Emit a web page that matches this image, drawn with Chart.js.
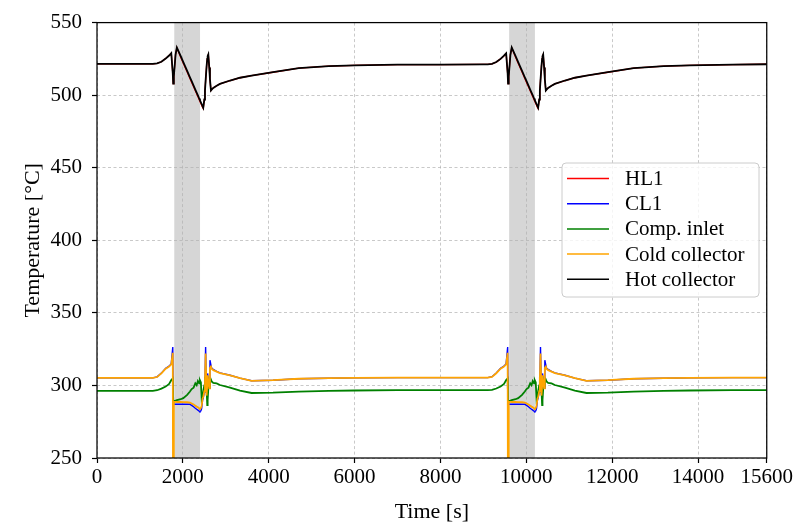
<!DOCTYPE html>
<html><head><meta charset="utf-8">
<script src="https://cdn.jsdelivr.net/npm/chart.js@4.4.1/dist/chart.umd.min.js"></script>
<style>html,body{margin:0;padding:0;background:#fff}#wrap{width:795px;height:525px;position:relative}</style>
</head><body><div id="wrap"><canvas id="c" width="795" height="525"></canvas></div>
<script>
// ---- Data (time in seconds, temperatures in °C) ----
const timeS = [0,
 1300,1400,1500,1600,1680,1730,1765,1775,1790,1830,1860,1950,2010,2100,2165,2205,2250,2290,2321,2350,2380,2398,2420,2437,2460,2475,2500,2515,2530,2553,2568,2577,2593,2615,2631,2654,2670,2708,2787,2864,3100,3330,3600,4100,4700,5400,6000,7000,
 8000,9000,
 9100,9200,9300,9400,9480,9530,9565,9575,9590,9630,9660,9750,9810,9900,9965,10005,10050,10090,10121,10150,10180,10198,10220,10237,10260,10275,10300,10315,10330,10353,10368,10377,10393,10415,10431,10454,10470,10508,10587,10664,10900,11130,11400,11900,12500,13200,13800,14800,
 15600];

const hotCollector = [521.5,
 521.5,521.9,523.0,525.2,527.3,528.9,515.0,508.0,513.0,528.0,532.8,526.9,522.8,516.7,512.3,509.6,506.6,503.8,501.7,499.8,497.7,496.5,495.0,493.9,492.3,491.3,497.0,503.0,510.0,520.0,525.0,526.8,528.0,519.0,511.0,503.2,503.8,505.0,506.5,507.8,510.1,512.0,513.4,515.8,518.6,520.0,520.5,521.0,
 521.1,521.2,
 521.2,521.6,522.8,525.0,527.2,528.8,515.0,508.0,513.0,528.0,532.8,526.9,522.8,516.7,512.3,509.6,506.6,503.8,501.7,499.8,497.7,496.5,495.0,493.9,492.3,491.3,497.0,503.0,510.0,520.0,525.0,526.8,528.0,519.0,511.0,503.2,503.8,505.0,506.5,507.8,510.1,512.0,513.4,515.8,518.6,520.0,520.5,521.0,
 521.3];

const hl1 = [521.5,
 521.5,521.9,523.0,525.2,527.3,528.9,515.0,508.0,513.0,528.0,532.6,526.2,522.0,515.9,511.5,508.8,505.8,503.0,500.9,499.0,496.9,495.7,494.2,493.1,491.6,490.8,497.0,503.0,510.0,520.0,525.0,526.8,528.0,519.0,511.0,503.2,503.8,505.0,506.5,507.8,510.1,512.0,513.4,515.8,518.6,520.0,520.5,521.0,
 521.1,521.2,
 521.2,521.6,522.8,525.0,527.2,528.8,515.0,508.0,513.0,528.0,532.6,526.2,522.0,515.9,511.5,508.8,505.8,503.0,500.9,499.0,496.9,495.7,494.2,493.1,491.6,490.8,497.0,503.0,510.0,520.0,525.0,526.8,528.0,519.0,511.0,503.2,503.8,505.0,506.5,507.8,510.1,512.0,513.4,515.8,518.6,520.0,520.5,521.0,
 521.3];

const coldCollector = [305.2,
 305.2,305.8,308.3,311.5,313.0,314.5,322.5,160.0,288.8,288.7,288.6,288.6,288.5,288.4,288.2,287.6,286.8,286.0,285.4,284.9,284.3,284.0,284.5,286.0,291.0,292.0,296.0,303.0,322.0,293.0,300.0,307.0,303.0,298.0,312.0,313.0,311.5,310.5,309.5,308.5,307.0,305.0,303.2,303.6,304.6,305.0,305.2,305.4,
 305.4,305.4,
 305.4,305.9,308.4,311.5,313.0,314.5,322.5,160.0,288.8,288.7,288.6,288.6,288.5,288.4,288.2,287.6,286.8,286.0,285.4,284.9,284.3,284.0,284.5,286.0,291.0,292.0,296.0,303.0,322.0,293.0,300.0,307.0,303.0,298.0,312.0,313.0,311.5,310.5,309.5,308.5,307.0,305.0,303.2,303.6,304.6,305.0,305.2,305.4,
 305.4];

const cl1 = [305.2,
 305.2,305.9,308.5,311.8,313.3,315.0,326.5,287.0,287.0,287.0,287.0,287.0,287.0,287.0,287.0,286.3,285.3,284.3,283.6,283.0,282.3,282.0,282.5,284.0,290.0,291.5,295.5,303.0,326.5,293.0,300.0,308.3,303.0,298.0,317.4,314.0,312.0,311.0,309.7,308.6,307.0,305.0,303.2,303.6,304.6,305.0,305.2,305.4,
 305.4,305.4,
 305.4,306.0,308.6,311.8,313.3,315.0,326.5,287.0,287.0,287.0,287.0,287.0,287.0,287.0,287.0,286.3,285.3,284.3,283.6,283.0,282.3,282.0,282.5,284.0,290.0,291.5,295.5,303.0,326.5,293.0,300.0,308.3,303.0,298.0,317.4,314.0,312.0,311.0,309.7,308.6,307.0,305.0,303.2,303.6,304.6,305.0,305.2,305.4,
 305.4];

const compInlet = [296.3,
 296.3,296.7,297.8,299.2,301.0,303.7,304.8,290.0,289.4,289.6,289.9,290.5,291.2,293.5,295.8,297.5,298.5,301.5,300.2,303.0,301.5,303.5,302.0,290.0,292.0,296.0,300.0,306.0,303.0,297.0,286.5,290.0,298.0,303.7,302.0,304.0,302.8,301.8,301.4,300.3,298.5,296.5,294.8,295.0,295.8,296.3,296.5,296.7,
 296.7,296.7,
 296.7,296.9,297.9,299.3,301.0,303.7,304.8,290.0,289.4,289.6,289.9,290.5,291.2,293.5,295.8,297.5,298.5,301.5,300.2,303.0,301.5,303.5,302.0,290.0,292.0,296.0,300.0,306.0,303.0,297.0,286.5,290.0,298.0,303.7,302.0,304.0,302.8,301.8,301.4,300.3,298.5,296.5,294.8,295.0,295.8,296.3,296.5,296.7,
 296.7];

const seriesNames = ['HL1', 'CL1', 'Comp. inlet', 'Cold collector', 'Hot collector'];
const seriesColors = ['#ff0000', '#0000ff', '#008000', '#ffa500', '#000000'];
const seriesValues = [hl1, cl1, compInlet, coldCollector, hotCollector];

const xTicks = [0, 2000, 4000, 6000, 8000, 10000, 12000, 14000, 15600];
const yTicks = [250, 300, 350, 400, 450, 500, 550];
const shadedSpans = [[1800, 2400], [9600, 10200]];

// ---- Chart ----
const FONT = "'Liberation Serif', 'DejaVu Serif', serif";
const lineWidths = [1.3, 1.4, 1.8, 1.8, 1.8];

const datasets = seriesNames.map((name, i) => ({
  label: name,
  data: timeS.map((t, k) => ({x: t, y: seriesValues[i][k]})),
  borderColor: seriesColors[i],
  backgroundColor: seriesColors[i],
  borderWidth: lineWidths[i],
  pointRadius: 0,
  tension: 0,
  fill: false,
  order: seriesNames.length - i
}));

const shadePlugin = {
  id: 'shade',
  beforeDraw(chart) {
    const ctx = chart.ctx, a = chart.chartArea, xs = chart.scales.x;
    ctx.save();
    ctx.fillStyle = '#ffffff';
    ctx.fillRect(0, 0, chart.width, chart.height);
    ctx.fillStyle = 'rgb(214,214,214)';
    shadedSpans.forEach(([s, e]) => {
      const x1 = xs.getPixelForValue(s), x2 = xs.getPixelForValue(e);
      ctx.fillRect(x1, a.top, x2 - x1, a.bottom - a.top);
    });
    ctx.restore();
  },
  afterDatasetsDraw(chart) {
    const ctx = chart.ctx, a = chart.chartArea;
    ctx.save();
    ctx.strokeStyle = '#000';
    ctx.lineWidth = 1.25;
    ctx.strokeRect(a.left, a.top, a.right - a.left, a.bottom - a.top);
    ctx.restore();
  },
  afterDraw(chart) {
    const ctx = chart.ctx;
    const bx = 562, by = 163, bw = 197, bh = 134, r = 4;
    ctx.save();
    ctx.beginPath();
    ctx.moveTo(bx + r, by);
    ctx.arcTo(bx + bw, by, bx + bw, by + bh, r);
    ctx.arcTo(bx + bw, by + bh, bx, by + bh, r);
    ctx.arcTo(bx, by + bh, bx, by, r);
    ctx.arcTo(bx, by, bx + bw, by, r);
    ctx.closePath();
    ctx.fillStyle = 'rgba(255,255,255,0.8)';
    ctx.fill();
    ctx.strokeStyle = '#cccccc';
    ctx.lineWidth = 1;
    ctx.stroke();
    ctx.font = "21px " + FONT;
    ctx.textBaseline = 'middle';
    ctx.textAlign = 'left';
    seriesNames.forEach((name, i) => {
      const y = 178.5 + i * 25.2;
      ctx.strokeStyle = seriesColors[i];
      ctx.lineWidth = 1.5;
      ctx.beginPath();
      ctx.moveTo(567, y);
      ctx.lineTo(609, y);
      ctx.stroke();
      ctx.fillStyle = '#000';
      ctx.fillText(name, 625, y + 1);
    });
    ctx.restore();
  }
};

const gridCommon = {
  color: 'rgba(175,175,175,0.85)',
  lineWidth: 0.8,
  tickLength: 5,
  tickColor: '#000',
  tickWidth: 1.2,
  tickBorderDash: []
};

new Chart(document.getElementById('c'), {
  type: 'line',
  data: {datasets},
  plugins: [shadePlugin],
  options: {
    responsive: false,
    animation: false,
    devicePixelRatio: 1,
    layout: {padding: {top: 22, right: 28, left: 0, bottom: 0}},
    plugins: {legend: {display: false}, tooltip: {enabled: false}},
    scales: {
      x: {
        type: 'linear', min: 0, max: 15600,
        afterBuildTicks: s => { s.ticks = xTicks.map(v => ({value: v})); },
        afterFit: s => { s.height = 67; },
        ticks: {font: {family: FONT, size: 21}, color: '#000', padding: 2, maxRotation: 0, autoSkip: false,
                callback: v => String(v)},
        grid: gridCommon,
        border: {display: false, dash: [3, 2.5]},
        title: {display: true, text: 'Time [s]', font: {family: FONT, size: 22}, color: '#000', padding: {top: 0, bottom: 0}}
      },
      y: {
        type: 'linear', min: 250, max: 550,
        afterBuildTicks: s => { s.ticks = yTicks.map(v => ({value: v})); },
        afterFit: s => { s.width = 97; },
        ticks: {font: {family: FONT, size: 21}, color: '#000', padding: 10, autoSkip: false,
                callback: v => String(v)},
        grid: gridCommon,
        border: {display: false, dash: [3, 2.5]},
        title: {display: true, text: 'Temperature [°C]', font: {family: FONT, size: 22}, color: '#000', padding: {top: 20, bottom: 0}}
      }
    }
  }
});
</script>
</body></html>
